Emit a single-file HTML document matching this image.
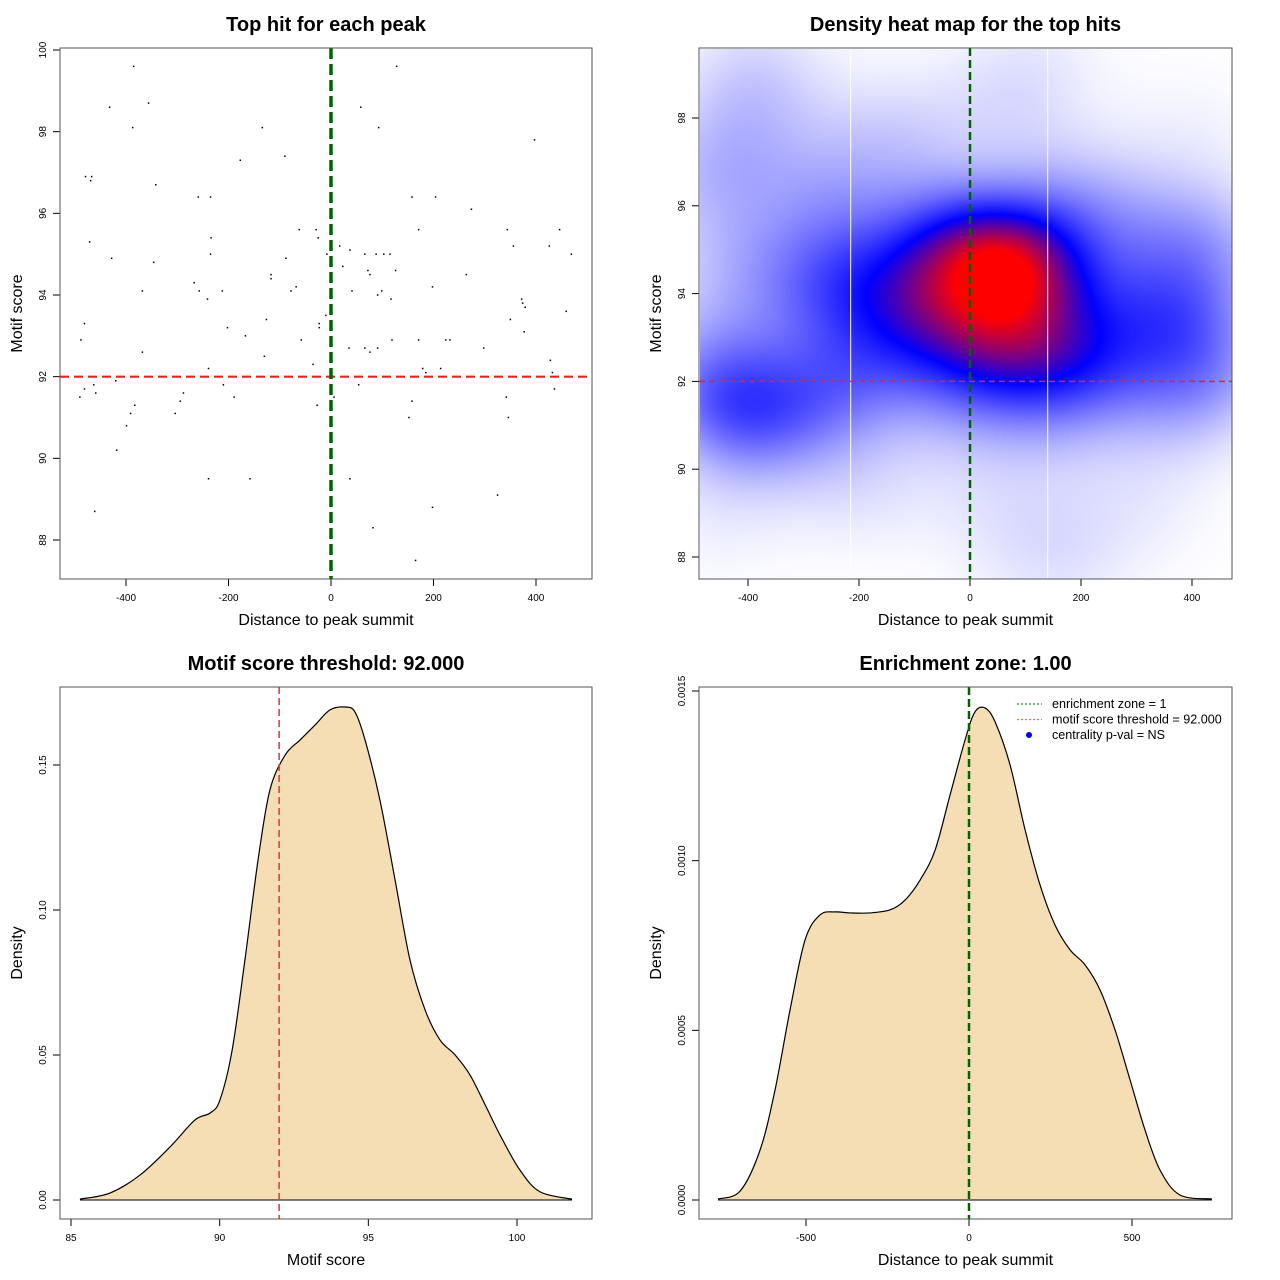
<!DOCTYPE html>
<html><head><meta charset="utf-8">
<style>
body{margin:0;background:#fff;width:1280px;height:1280px;position:relative;overflow:hidden;font-family:"Liberation Sans",sans-serif;}
#heat{position:absolute;left:700px;top:49px;}
#main{position:absolute;left:0;top:0;}
</style></head>
<body>
<canvas id="heat" width="532" height="530"></canvas>
<svg id="main" width="1280" height="1280" xmlns="http://www.w3.org/2000/svg"></svg>
<script>
// ---- data ----
const scatterDist = [-385,128,-432,-356,-387,-134,58,93,397,-177,-90,-479,-467,-469,-342,-259,-235,158,204,274,-471,-234,-62,-29,-25,171,344,446,17,37,66,88,103,115,-8,-428,-235,-88,356,426,469,-346,23,-117,-117,72,76,126,264,-267,-257,-368,-212,-68,-78,41,99,198,-241,91,117,372,374,379,459,-126,-10,350,-481,-23,-23,-202,377,-167,-488,-58,119,171,224,232,35,66,76,91,298,-368,-130,-35,179,185,-239,214,432,436,428,-420,-463,-210,54,-459,-481,436,-490,-288,-189,6,158,342,-383,-391,-294,-304,-27,152,346,-399,-418,-239,-158,37,325,-461,198,82,165];
const scatterScore = [99.6,99.6,98.6,98.7,98.1,98.1,98.6,98.1,97.8,97.3,97.4,96.9,96.9,96.8,96.7,96.4,96.4,96.4,96.4,96.1,95.3,95.4,95.6,95.6,95.4,95.6,95.6,95.6,95.2,95.1,95.0,95.0,95.0,95.0,95.0,94.9,95.0,94.9,95.2,95.2,95.0,94.8,94.7,94.5,94.4,94.6,94.5,94.6,94.5,94.3,94.1,94.1,94.1,94.2,94.1,94.1,94.1,94.2,93.9,94.0,93.9,93.9,93.8,93.7,93.6,93.4,93.5,93.4,93.3,93.3,93.2,93.2,93.1,93.0,92.9,92.9,92.9,92.9,92.9,92.9,92.7,92.7,92.6,92.7,92.7,92.6,92.5,92.3,92.2,92.1,92.2,92.2,92.1,92.0,92.4,91.9,91.8,91.8,91.8,91.6,91.7,91.7,91.5,91.6,91.5,91.5,91.4,91.5,91.3,91.1,91.4,91.1,91.3,91.0,91.0,90.8,90.2,89.5,89.5,89.5,89.1,88.7,88.8,88.3,87.5];
const scoreDensX = [85.30,86.31,87.32,88.33,89.17,89.68,90.01,90.42,90.85,91.29,91.69,92.20,92.70,93.21,93.71,94.22,94.55,94.89,95.39,95.90,96.40,96.91,97.41,97.92,98.42,98.93,99.43,100.10,100.78,101.85];
const scoreDensY = [0.0003,0.0024,0.0086,0.0183,0.0276,0.0300,0.0345,0.0517,0.0828,0.1172,0.1414,0.1534,0.1586,0.1638,0.1690,0.1700,0.1683,0.1586,0.1379,0.1103,0.0828,0.0655,0.0552,0.0500,0.0431,0.0328,0.0224,0.0103,0.0028,0.0003];
const distDensX = [-770,-702,-641,-595,-549,-503,-457,-411,-365,-304,-242,-196,-150,-104,-58,-12,18,49,80,126,172,218,264,310,356,402,448,494,540,586,647,745];
const distDensY = [0.0000029,0.0000265,0.000147,0.000324,0.000560,0.000766,0.000840,0.000849,0.000846,0.000846,0.000855,0.000884,0.000943,0.001031,0.001194,0.001356,0.001438,0.001450,0.001409,0.001282,0.001091,0.000928,0.000810,0.000737,0.000693,0.000619,0.000501,0.000354,0.000206,0.000088,0.0000147,0.0000029];
const scoreThreshold = 92;
const zoneLines = [-215, 140];
const tlXTicks=[-400,-200,0,200,400], tlYTicks=[88,90,92,94,96,98,100];
const trXTicks=[-400,-200,0,200,400], trYTicks=[88,90,92,94,96,98];
const blXTicks=[85,90,95,100], blYTicks=[0,0.05,0.10,0.15], blYLabels=["0.00","0.05","0.10","0.15"];
const brXTicks=[-500,0,500], brYTicks=[0,0.0005,0.0010,0.0015], brYLabels=["0.0000","0.0005","0.0010","0.0015"];

// ---- helpers ----
const svg=document.getElementById('main');
const NS='http://www.w3.org/2000/svg';
function el(tag,attrs,parent,text){const e=document.createElementNS(NS,tag);for(const k in attrs)e.setAttribute(k,attrs[k]);if(text!==undefined)e.textContent=text;(parent||svg).appendChild(e);return e;}
function lin(d0,d1,r0,r1){return v=>r0+(v-d0)*(r1-r0)/(d1-d0);}
function panel(p){
  const g=el('g',{});
  
  
  const t=el('text',{x:(p.x0+p.x1)/2,y:p.y0-17,'text-anchor':'middle','font-size':20,'font-weight':'bold'},g,p.title);
  
  const xa=el('g',{},g);
  p.xt.forEach((v,i)=>{const x=p.sx(v);el('line',{x1:x,x2:x,y1:p.y1,y2:p.y1+7,stroke:'#000'},xa);
    const l=el('text',{x:x,y:p.y1+22,'text-anchor':'middle','font-size':10},xa,p.xl?p.xl[i]:String(v));});
  const ya=el('g',{},g);
  p.yt.forEach((v,i)=>{const y=p.sy(v);el('line',{x1:p.x0-7,x2:p.x0,y1:y,y2:y,stroke:'#000'},ya);
    const l=el('text',{x:0,y:0,'text-anchor':'middle','font-size':10,transform:`translate(${p.x0-14},${y}) rotate(-90)`},ya,p.yl?p.yl[i]:String(v));});
  const xt=el('text',{x:(p.x0+p.x1)/2,y:p.y1+46,'text-anchor':'middle','font-size':16},g,p.xlab);
  const yt=el('text',{x:0,y:0,'text-anchor':'middle','font-size':16,transform:`translate(${p.x0-38},${(p.y0+p.y1)/2}) rotate(-90)`},g,p.ylab);
  return g;
}
function box(p,g){const b=el('rect',{x:p.x0,y:p.y0,width:p.x1-p.x0,height:p.y1-p.y0,fill:'none',stroke:'#555'},g);}
function smoothPath(pts){let d=`M${pts[0][0]},${pts[0][1]}`;for(let i=0;i<pts.length-1;i++){const p0=pts[Math.max(0,i-1)],p1=pts[i],p2=pts[i+1],p3=pts[Math.min(pts.length-1,i+2)];
  d+=` C${p1[0]+(p2[0]-p0[0])/6},${p1[1]+(p2[1]-p0[1])/6} ${p2[0]-(p3[0]-p1[0])/6},${p2[1]-(p3[1]-p1[1])/6} ${p2[0]},${p2[1]}`;}return d;}

// ---- panel 1: scatter ----
const P1={name:'scatter-panel',x0:60,x1:592,y0:48,y1:579,title:'Top hit for each peak',xlab:'Distance to peak summit',ylab:'Motif score',xt:tlXTicks,yt:tlYTicks,sx:lin(0,400,331,536),sy:lin(100,88,50,540)};
const g1=panel(P1);
scatterDist.forEach((d,i)=>{const c=el('rect',{x:P1.sx(d)-0.75,y:P1.sy(scatterScore[i])-0.75,width:1.5,height:1.5,fill:'#000'},g1);});
let l=el('line',{x1:P1.x0,x2:P1.x1,y1:P1.sy(scoreThreshold),y2:P1.sy(scoreThreshold),stroke:'#e8221c','stroke-width':2.2,'stroke-dasharray':'9,5'},g1);
l=el('line',{x1:P1.sx(0),x2:P1.sx(0),y1:P1.y0,y2:P1.y1,stroke:'#006400','stroke-width':3.5,'stroke-dasharray':'11,5'},g1);
box(P1,g1);

// ---- panel 2: heatmap ----
const P2={name:'heatmap-panel',x0:699,x1:1232,y0:48,y1:579,title:'Density heat map for the top hits',xlab:'Distance to peak summit',ylab:'Motif score',xt:trXTicks,yt:trYTicks,sx:lin(0,400,970,1192),sy:lin(98,88,118,557)};
const cv=document.getElementById('heat'),ctx=cv.getContext('2d');
(function(){const W=cv.width,H=cv.height,img=ctx.createImageData(W,H);const hx=95,hy=1.05;const dens=new Float32Array(W*H);let mx=0;
 const N=scatterDist.length;
 for(let j=0;j<H;j++){const yv=98+(j+49-118)*(88-98)/(557-118);
  for(let i=0;i<W;i++){const xv=(i+700-970)*400/222;let s=0;
   for(let k=0;k<N;k++){const a=(xv-scatterDist[k])/hx,b=(yv-scatterScore[k])/hy;s+=Math.exp(-0.5*(a*a+b*b));}
   dens[j*W+i]=s;if(s>mx)mx=s;}}
 for(let q=0;q<W*H;q++){let t=dens[q]/mx;let r,g,b;
  if(t<0.62){const u=Math.pow(t/0.62,1.3);r=255*(1-u);g=255*(1-u);b=255;}
  else{const u=Math.min(1,(t-0.62)/0.3);r=255*u;g=0;b=255*(1-u);}
  img.data[q*4]=r;img.data[q*4+1]=g;img.data[q*4+2]=b;img.data[q*4+3]=255;}
 ctx.putImageData(img,0,0);})();
const g2=panel(P2);
zoneLines.forEach(z=>{const e=el('line',{x1:P2.sx(z),x2:P2.sx(z),y1:P2.y0,y2:P2.y1,stroke:'#fff','stroke-width':1},g2);});
l=el('line',{x1:P2.x0,x2:P2.x1,y1:P2.sy(scoreThreshold),y2:P2.sy(scoreThreshold),stroke:'#e8221c','stroke-width':1.5,'stroke-dasharray':'6,4'},g2);
l=el('line',{x1:P2.sx(0),x2:P2.sx(0),y1:P2.y0,y2:P2.y1,stroke:'#006400','stroke-width':2.5,'stroke-dasharray':'8,4'},g2);
box(P2,g2);

// ---- panel 3: score density ----
const P3={name:'score-density-panel',x0:60,x1:592,y0:687,y1:1219,title:'Motif score threshold: 92.000',xlab:'Motif score',ylab:'Density',xt:blXTicks,yt:blYTicks,yl:blYLabels,sx:lin(85,100,71,517),sy:lin(0,0.15,1200,765)};
const g3=panel(P3);
let pts=scoreDensX.map((x,i)=>[P3.sx(x),P3.sy(scoreDensY[i])]);
let a=el('path',{d:smoothPath(pts)+` L${pts[pts.length-1][0]},${P3.sy(0)} L${pts[0][0]},${P3.sy(0)} Z`,fill:'#f5deb3',stroke:'none'},g3);
a=el('path',{d:smoothPath(pts),fill:'none',stroke:'#000','stroke-width':1.2},g3);
el('line',{x1:pts[0][0],x2:pts[pts.length-1][0],y1:P3.sy(0),y2:P3.sy(0),stroke:'#000'},g3);
l=el('line',{x1:P3.sx(scoreThreshold),x2:P3.sx(scoreThreshold),y1:P3.y0,y2:P3.y1,stroke:'#d9383a','stroke-width':1.5,'stroke-dasharray':'7,4'},g3);
box(P3,g3);

// ---- panel 4: distance density ----
const P4={name:'distance-density-panel',x0:699,x1:1232,y0:687,y1:1219,title:'Enrichment zone: 1.00',xlab:'Distance to peak summit',ylab:'Density',xt:brXTicks,yt:brYTicks,yl:brYLabels,sx:lin(0,500,969,1132),sy:lin(0,0.0015,1200,691)};
const g4=panel(P4);
pts=distDensX.map((x,i)=>[P4.sx(x),P4.sy(distDensY[i])]);
a=el('path',{d:smoothPath(pts)+` L${pts[pts.length-1][0]},${P4.sy(0)} L${pts[0][0]},${P4.sy(0)} Z`,fill:'#f5deb3',stroke:'none'},g4);
a=el('path',{d:smoothPath(pts),fill:'none',stroke:'#000','stroke-width':1.2},g4);
el('line',{x1:pts[0][0],x2:pts[pts.length-1][0],y1:P4.sy(0),y2:P4.sy(0),stroke:'#000'},g4);
l=el('line',{x1:P4.sx(0),x2:P4.sx(0),y1:P4.y0,y2:P4.y1,stroke:'#006400','stroke-width':2.5,'stroke-dasharray':'8,4'},g4);
const lg=el('g',{},g4);
[['enrichment zone = 1','#2a8a2a','line'],['motif score threshold = 92.000','#f07070','line'],['centrality p-val = NS','#0000ff','dot']].forEach((e,i)=>{const y=704+i*15.5;
  const it=el('g',{},lg);
  if(e[2]==='line')el('line',{x1:1017,x2:1042,y1:y,y2:y,stroke:e[1],'stroke-width':1.3,'stroke-dasharray':'2,2'},it);
  else el('circle',{cx:1029,cy:y,r:3,fill:e[1]},it);
  el('text',{x:1052,y:y+4,'font-size':12.6},it,e[0]);});
box(P4,g4);
</script>
</body></html>
